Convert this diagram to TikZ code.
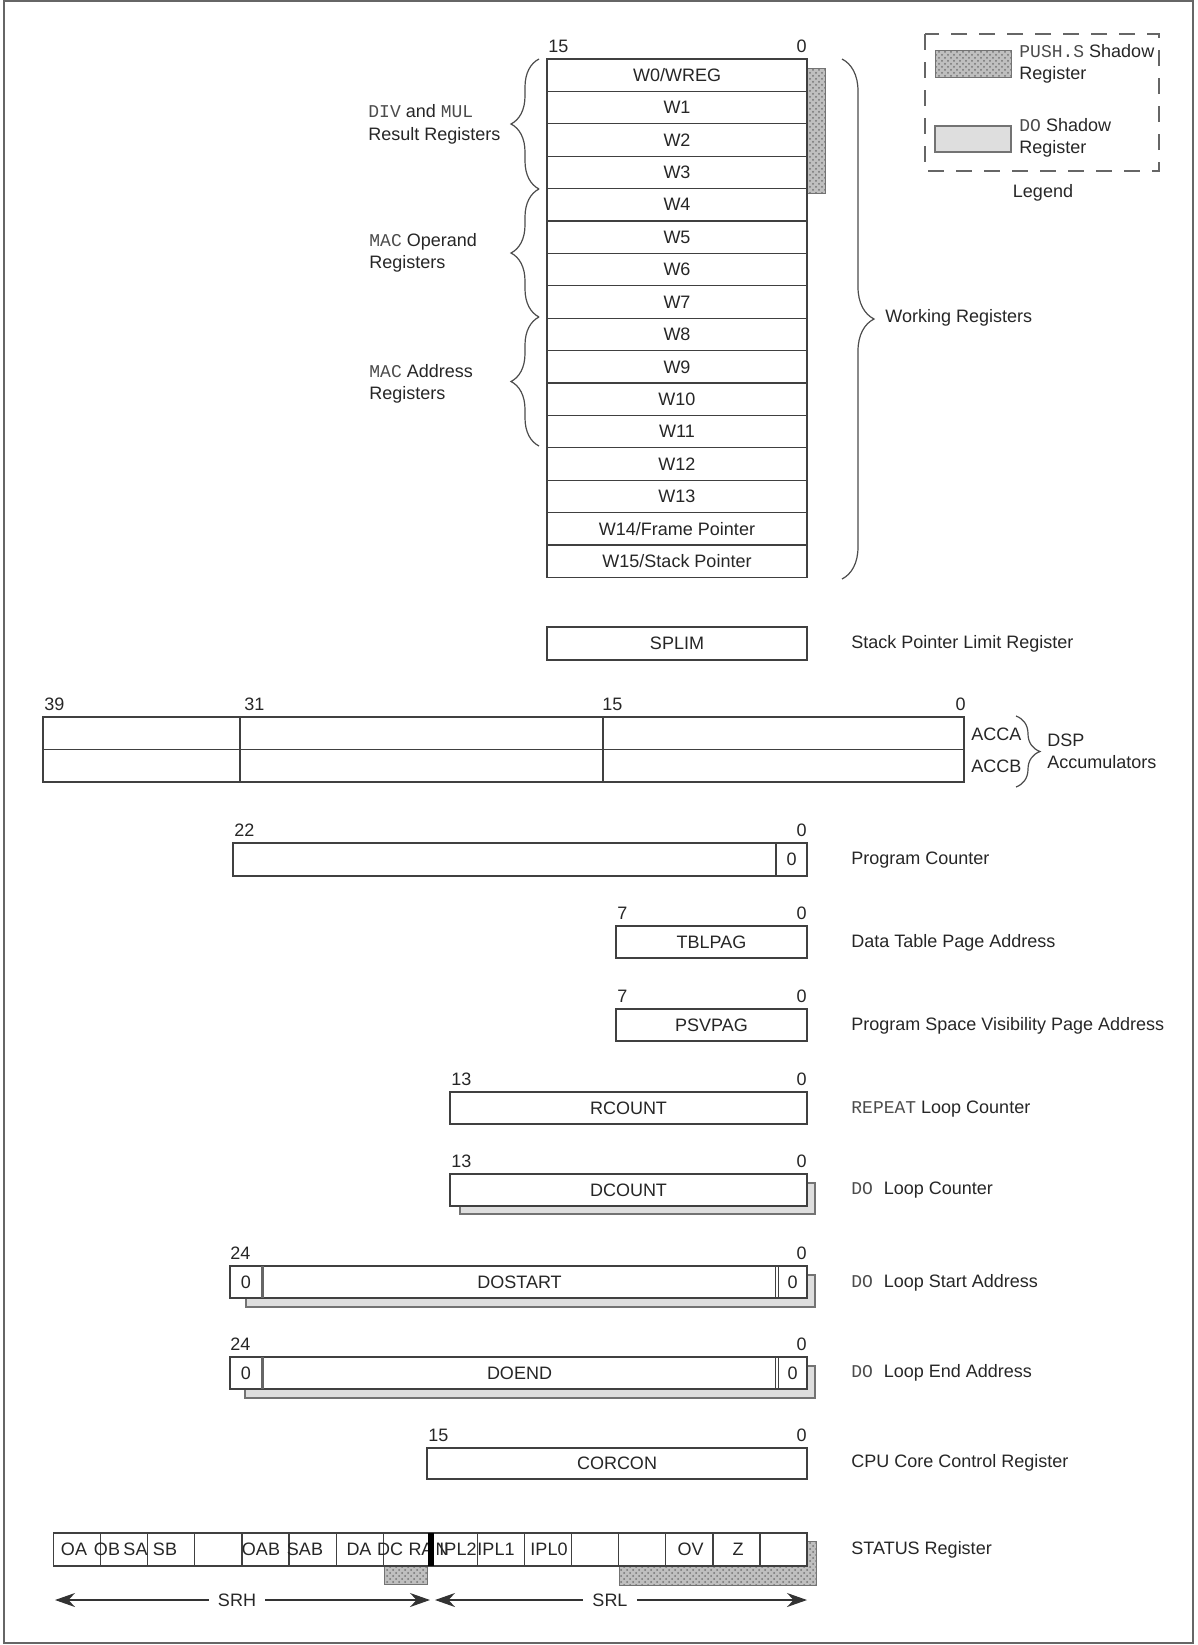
\documentclass[tikz,border=0pt]{standalone}
\usepackage{fontspec}
\setmainfont{Liberation Sans}
\newfontfamily\regmono{Liberation Mono}
\usetikzlibrary{patterns,decorations.pathreplacing,arrows.meta}

\newcommand{\mn}[1]{{\color{black!70}\regmono #1}}

\tikzset{
  frame/.style={draw=black!60, line width=0.7pt},
  reg/.style={draw=black!75, line width=0.6pt, fill=white},
  dosh/.style={draw=black!55, line width=0.6pt, fill=black!13},
  pushsh/.style={draw=black!55, line width=0.5pt, fill=black!25,
    postaction={pattern=crosshatch dots, pattern color=black!55}},
  lbl/.style={anchor=west, inner sep=0pt, align=left},
  msb/.style={anchor=west, inner sep=0pt},
  lsb/.style={anchor=east, inner sep=0pt},
  brc/.style={decorate, decoration={brace, amplitude=#1}, draw=black!70, line width=0.6pt},
  srarr/.style={draw=black!80, line width=0.6pt, -{Stealth[length=10pt,width=7pt]}},
}

\begin{document}
\begin{tikzpicture}[x=0.5pt,y=-0.5pt,font=\fontsize{9}{11.2}\selectfont,text=black!85]
\useasboundingbox (0,0) rectangle (1198,1645);
\draw[frame] (4,1) rectangle (1193,1643);

% working registers
\draw[pushsh] (807,68) rectangle (825,193);
\foreach \t [count=\i from 0] in {{W0/WREG},W1,W2,W3,W4,W5,W6,W7,W8,W9,W10,W11,W12,W13,{W14/Frame Pointer},{W15/Stack Pointer}} {
  \draw[reg] (547,{59+32.4*\i}) rectangle (807,{91.4+32.4*\i});
  \node (w\i) at (677,{75.2+32.4*\i}) {\t};
}
\node[msb] (wmsb) at (548,46) {15};
\node[lsb] (wlsb) at (807,46) {0};

\draw[brc=14pt] (539,189) -- (539,59);
\draw[brc=14pt] (539,317) -- (539,189);
\draw[brc=14pt] (539,446) -- (539,317);
\node[lbl] (divmul) at (368,124.5) {\mn{DIV} and \mn{MUL}\\Result Registers};
\node[lbl] (macop) at (369,253) {\mn{MAC} Operand\\Registers};
\node[lbl] (macad) at (369,384) {\mn{MAC} Address\\Registers};

\draw[brc=16pt] (842,59) -- (842,579);
\node[lbl] (wlab) at (885,318) {Working Registers};

% legend
\draw[draw=black!60, line width=0.9pt, dash pattern=on 8pt off 6pt] (925,34) rectangle (1159,171);
\draw[pushsh] (935,50) rectangle (1011,77);
\node[lbl] (legpush) at (1019,64) {\mn{PUSH.S} Shadow\\Register};
\draw[dosh] (935,126) rectangle (1011,152);
\node[lbl] (legdo) at (1019,138) {\mn{DO} Shadow\\Register};
\node (legend) at (1043,193) {Legend};

% stack pointer limit
\draw[reg] (547,627) rectangle (807,660);
\node (splim) at (677,643.5) {SPLIM};
\node[lbl] (splimlab) at (851,644) {Stack Pointer Limit Register};

% accumulators
\draw[reg] (43,717) rectangle (964,782);
\draw[reg] (43,749.5) -- (964,749.5) (240,717) -- (240,782) (603,717) -- (603,782);
\node[msb] (acc39) at (44,704) {39};
\node[msb] (acc31) at (244,704) {31};
\node[msb] (acc15) at (602,704) {15};
\node[lsb] (acc0) at (966,704) {0};
\node[lbl] (acca) at (971,734) {ACCA};
\node[lbl] (accb) at (971,766) {ACCB};
\draw[brc=12pt] (1016,716) -- (1016,787);
\node[lbl] (dsp) at (1047,751) {DSP\\Accumulators};

% program counter
\draw[reg] (233,843) rectangle (807,876);
\draw[reg] (776,843) -- (776,876);
\node (pc0) at (791.5,859.5) {0};
\node[msb] (pcmsb) at (234,830) {22};
\node[lsb] (pclsb) at (807,830) {0};
\node[lbl] (pclab) at (851,860) {Program Counter};

% table page
\draw[reg] (616,926) rectangle (807,958);
\node (tblpag) at (711.5,942) {TBLPAG};
\node[msb] (tblmsb) at (617,913) {7};
\node[lsb] (tbllsb) at (807,913) {0};
\node[lbl] (tbllab) at (851,943) {Data Table Page Address};

% psv page
\draw[reg] (616,1009) rectangle (807,1041);
\node (psvpag) at (711.5,1025) {PSVPAG};
\node[msb] (psvmsb) at (617,996) {7};
\node[lsb] (psvlsb) at (807,996) {0};
\node[lbl] (psvlab) at (851,1026) {Program Space Visibility Page Address};

% repeat counter
\draw[reg] (450,1092) rectangle (807,1124);
\node (rcount) at (628.5,1108) {RCOUNT};
\node[msb] (rcmsb) at (451,1079) {13};
\node[lsb] (rclsb) at (807,1079) {0};
\node[lbl] (rclab) at (851,1109) {\mn{REPEAT} Loop Counter};

% do counter
\draw[dosh] (460,1183) rectangle (815,1214);
\draw[reg] (450,1174) rectangle (807,1206);
\node (dcount) at (628.5,1190) {DCOUNT};
\node[msb] (dcmsb) at (451,1161) {13};
\node[lsb] (dclsb) at (807,1161) {0};
\node[lbl] (dclab) at (851,1190) {\mn{DO }Loop Counter};

% do start
\draw[dosh] (246,1275) rectangle (815,1307);
\draw[reg] (230,1266) rectangle (807,1298);
\draw[black!60, line width=1.5pt] (262.5,1266) -- (262.5,1298);
\draw[reg] (775.5,1266) -- (775.5,1298) (778.5,1266) -- (778.5,1298);
\node (dsl) at (246,1282) {0};
\node (dostart) at (519.5,1282) {DOSTART};
\node (dsr) at (792.5,1282) {0};
\node[msb] (dsmsb) at (230,1253) {24};
\node[lsb] (dslsb) at (807,1253) {0};
\node[lbl] (dslab) at (851,1283) {\mn{DO }Loop Start Address};

% do end
\draw[dosh] (245,1366) rectangle (815,1398);
\draw[reg] (230,1357) rectangle (807,1389);
\draw[black!60, line width=1.5pt] (262.5,1357) -- (262.5,1389);
\draw[reg] (775.5,1357) -- (775.5,1389) (778.5,1357) -- (778.5,1389);
\node (del) at (246,1373) {0};
\node (doend) at (519.5,1373) {DOEND};
\node (der) at (792.5,1373) {0};
\node[msb] (demsb) at (230,1344) {24};
\node[lsb] (delsb) at (807,1344) {0};
\node[lbl] (delab) at (851,1373) {\mn{DO }Loop End Address};

% core control
\draw[reg] (427,1448) rectangle (807,1479);
\node (corcon) at (617,1463.5) {CORCON};
\node[msb] (ccmsb) at (428,1435) {15};
\node[lsb] (cclsb) at (807,1435) {0};
\node[lbl] (cclab) at (851,1463) {CPU Core Control Register};

% status register
\draw[pushsh] (619,1541) rectangle (816,1585);
\draw[pushsh] (384,1560) rectangle (427.5,1584);
\draw[reg] (53.5,1533) rectangle (807,1566);
\foreach \k in {1,...,15}
  \draw[reg] ({53.5+47.1*\k},1533) -- ({53.5+47.1*\k},1566);
\foreach \x/\t in {74/OA,107/OB,135.5/SA,165/SB,261/OAB,305/SAB,359/DA,390/DC,421/RA,442/N,458/IPL2,496/IPL1,549/IPL0,690.5/OV,738/Z}
  \node[inner sep=0pt] (s\t) at (\x,1549.5) {\t};
\fill[black] (427.5,1533) rectangle (434,1566);
\node[lbl] (srlab) at (851,1549.5) {STATUS Register};

\coordinate (srhl) at (55,1600);
\coordinate (srhr) at (430,1600);
\coordinate (srll) at (435,1600);
\coordinate (srlr) at (807,1600);
\node[inner sep=4.5pt] (srh) at (237,1600) {SRH};
\node[inner sep=4.5pt] (srl) at (610,1600) {SRL};
\draw[srarr] (srh.west) -- (srhl);
\draw[srarr] (srh.east) -- (srhr);
\draw[srarr] (srl.west) -- (srll);
\draw[srarr] (srl.east) -- (srlr);
\end{tikzpicture}
\end{document}
